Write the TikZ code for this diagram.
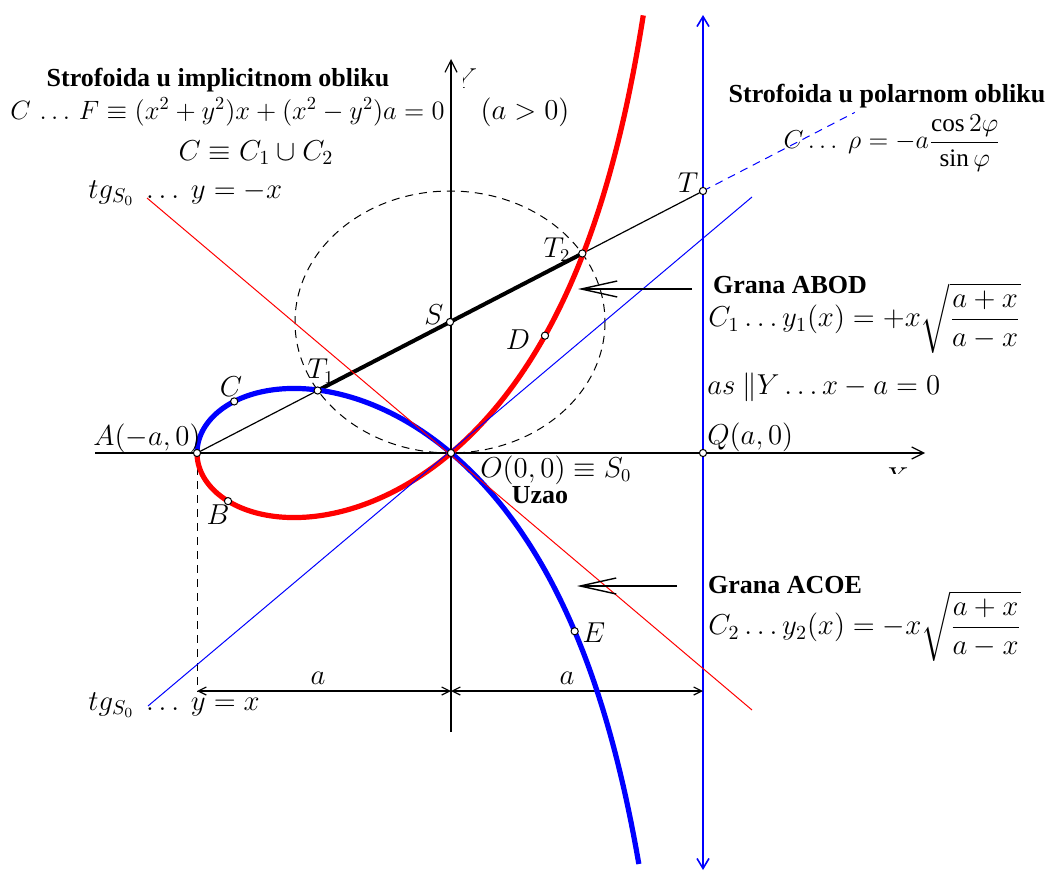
\documentclass[tikz,border=0pt]{standalone}
\usepackage{amsmath}
\usepackage{fontspec}
\setmainfont{Liberation Serif}
\usetikzlibrary{arrows.meta,calc}
\begin{document}
\begin{tikzpicture}[x=0.5pt,y=-0.5pt,
 redc/.style={draw=red,line width=2.6pt},
 bluec/.style={draw=blue,line width=2.6pt},
 axisline/.style={draw=black,line width=0.6pt,-{Straight Barb[length=6pt,width=6pt]}},
 asym/.style={draw=blue,line width=0.8pt,{Straight Barb[length=5pt,width=6pt]}-{Straight Barb[length=5pt,width=6pt]}},
 tanred/.style={draw=red,line width=0.5pt},
 tanblue/.style={draw=blue,line width=0.5pt},
 dot/.style={circle,draw=black,fill=white,inner sep=0pt,minimum size=3.6pt,line width=0.5pt},
 lbl/.style={inner sep=0pt,font=\fontsize{13.5}{15}\selectfont},
 frm/.style={inner sep=0pt,font=\fontsize{14}{16}\selectfont},
 hd/.style={inner sep=0pt,font=\fontsize{13}{15}\selectfont\bfseries},
 dimline/.style={line width=0.6pt,{Straight Barb[length=4pt,width=4pt]}-{Straight Barb[length=4pt,width=4pt]}},
 bigarrow/.style={line width=0.7pt,-{Straight Barb[length=18pt,width=8pt]}},
 dashline/.style={line width=0.5pt,dash pattern=on 4pt off 3pt},
]
\useasboundingbox (0,0) rectangle (1051,872);
% key coordinates
\coordinate (O) at (451,453);
\coordinate (A) at (197,453);
\coordinate (Q) at (703,453);
\coordinate (T) at (703,191);
\coordinate (S) at ($(A)!0.5!(T)$);
\coordinate (T1) at ($(A)!0.2385!(T)$);
\coordinate (T2) at ($(A)!0.7615!(T)$);
\coordinate (Tx) at ($(A)!1.3!(T)$);
\coordinate (C) at ({451-254*cos(-31.4)},{453+215*cos(-31.4)*tan(-15.7)});
\coordinate (B) at ({451-254*cos(28.6)},{453+215*cos(28.6)*tan(14.3)});
\coordinate (D) at ({451-254*cos(111.72)},{453+215*cos(111.72)*tan(55.86)});
\coordinate (E) at ({451-254*cos(-119.14)},{453+215*cos(-119.14)*tan(-59.57)});
\coordinate (xs) at (95,453);
\coordinate (xe) at (925,453);
\coordinate (ys) at (451,732);
\coordinate (ye) at (451,59);
\coordinate (as1) at (703,870);
\coordinate (as2) at (703,15);
\coordinate (r1) at (147,198);
\coordinate (r2) at (752,710);
\coordinate (b1) at (148,706);
\coordinate (b2) at (752,197);
\coordinate (dA) at (197,692);
\coordinate (d1) at (197,691);
\coordinate (d2) at (451,691);
\coordinate (d3) at (703,691);
\coordinate (ar1s) at (692,289);
\coordinate (ar1e) at (578,289);
\coordinate (ar2s) at (677,586);
\coordinate (ar2e) at (577,586);
% axes
\draw[axisline] (xs) -- (xe);
\draw[axisline] (ys) -- (ye);
\begin{scope}
 \clip (880,462) rectangle (912,473);
 \node[frm] (lX) at (896,478) {$X$};
\end{scope}
\begin{scope}
 \clip (463,68) rectangle (482,90);
 \node[lbl] (lY) at (466,79) {$Y$};
\end{scope}
% asymptote
\draw[asym] (as1) -- (as2);
% dashed helpers
\draw[dashline] (A) -- (dA);
\draw[dashline] (S) ellipse [x radius=155, y radius=131];
\draw[dashline,draw=blue] (T) -- (Tx);
% dimension lines
\draw[dimline] (d1) -- (d2);
\draw[dimline] (d2) -- (d3);
% line A-T
\draw[line width=0.6pt] (A) -- (T1);
\draw[line width=2pt] (T1) -- (T2);
\draw[line width=0.6pt] (T2) -- (T);
% curves
\draw[redc] plot[domain=0:69.6,samples=160,smooth] ({451-254*cos(2*\x)},{453+215*cos(2*\x)*tan(\x)});
\draw[bluec] plot[domain=-68.85:0,samples=160,smooth] ({451-254*cos(2*\x)},{453+215*cos(2*\x)*tan(\x)});
% tangents
\draw[tanred] (r1) -- (r2);
\draw[tanblue] (b1) -- (b2);
% big arrows
\draw[bigarrow] (ar1s) -- (ar1e);
\draw[bigarrow] (ar2s) -- (ar2e);
% points
\foreach \p in {A,O,Q,T,S,T1,T2,C,B,D,E}{\node[dot] (p\p) at (\p) {};}
% point labels
\node[lbl] (lA) at (147,438) {$A(-a,0)$};
\node[lbl] (lC) at (231,387) {$C$};
\node[lbl] (lB) at (218,515) {$B$};
\node[lbl] (lT1) at (321,371) {$T_1$};
\node[lbl] (lS) at (434,315) {$S$};
\node[lbl] (lD) at (518,340) {$D$};
\node[lbl] (lT2) at (557,250) {$T_2$};
\node[lbl] (lT) at (688,183) {$T$};
\node[lbl] (lE) at (594,633) {$E$};
\node[lbl,anchor=west] (lQ) at (707,437) {$Q(a,0)$};
\node[lbl,anchor=west] (lO) at (480,470) {$O(0,0)\equiv S_0$};
\node[hd] (uz) at (540,495) {Uzao};
\node[lbl] (la1) at (318,678) {$a$};
\node[lbl] (la2) at (567,678) {$a$};
% texts
\node[hd] (h1) at (218,80) {Strofoida u implicitnom obliku};
\node[frm,scale=0.92,anchor=west] (f1) at (10,112) {$C\,\ldots\,F\equiv(x^2+y^2)x+(x^2-y^2)a=0$};
\node[frm] (f1b) at (525,112) {$(a>0)$};
\node[frm] (f2) at (256,153) {$C\equiv C_1\cup C_2$};
\node[frm,anchor=west] (tg1) at (88,193) {$tg_{S_0}\ \ldots\ y=-x$};
\node[hd] (h2) at (887,96) {Strofoida u polarnom obliku};
\node[frm,scale=0.9] (f3) at (892,143) {$C\ldots\ \rho=-a\dfrac{\cos2\varphi}{\sin\varphi}$};
\node[hd] (g1) at (790,285) {Grana ABOD};
\node[frm,anchor=west] (f4) at (708,318) {$C_1\ldots y_1(x)=+x\sqrt{\dfrac{a+x}{a-x}}$};
\node[frm,anchor=west] (f5) at (707,387) {$as\ \|Y\ldots x-a=0$};
\node[hd] (g2) at (785,585) {Grana ACOE};
\node[frm,anchor=west] (f6) at (708,626) {$C_2\ldots y_2(x)=-x\sqrt{\dfrac{a+x}{a-x}}$};
\node[frm,anchor=west] (tg2) at (88,705) {$tg_{S_0}\ \ldots\ y=x$};
\end{tikzpicture}
\end{document}
